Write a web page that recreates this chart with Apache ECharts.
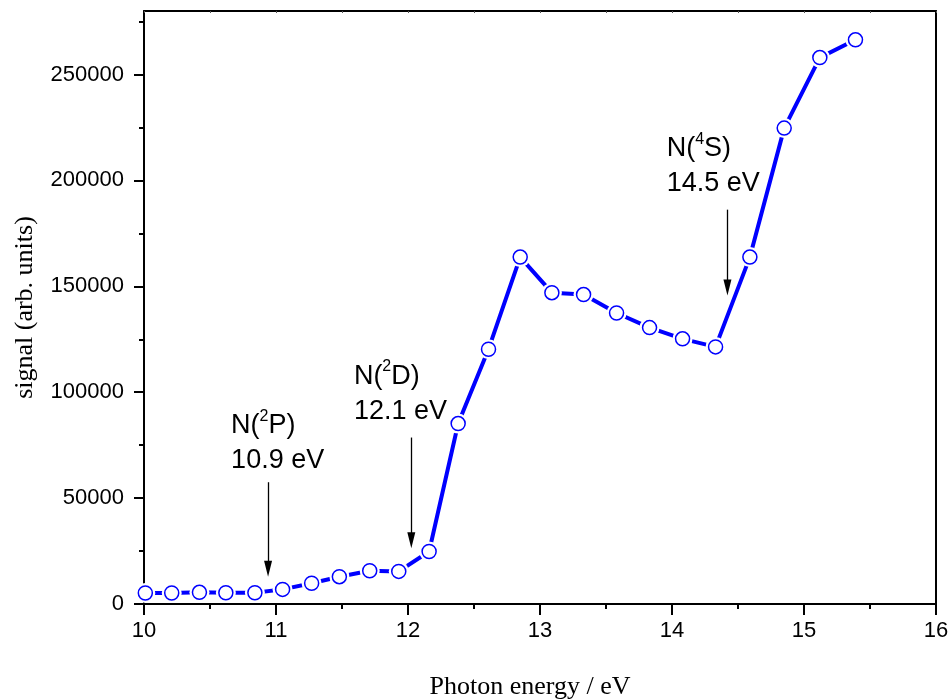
<!DOCTYPE html>
<html>
<head>
    <meta charset="utf-8">
    <title>signal vs photon energy</title>
    <script src="https://cdn.jsdelivr.net/npm/echarts@6/dist/echarts.min.js"></script>
    <style>
        html, body { margin: 0; padding: 0; background: #fff; }
        #chart { width: 951px; height: 700px; }
    </style>
</head>
<body>
<div id="chart"></div>
<script>
    // photon energy (eV) and signal (arb. units)
    var energy = [10.01, 10.21, 10.42, 10.62, 10.84, 11.05, 11.27, 11.48, 11.71, 11.93, 12.16, 12.38,
                  12.61, 12.85, 13.09, 13.33, 13.58, 13.83, 14.08, 14.33, 14.59, 14.85, 15.12, 15.39];
    var signal = [5200, 5200, 5500, 5300, 5300, 6900, 9800, 12900, 15700, 15400, 24800, 85200,
                  120300, 163800, 147000, 146100, 137400, 130500, 125200, 121400, 163800, 224700, 258000, 266400];

    var yTicks = [0, 50000, 100000, 150000, 200000, 250000];
    var yMinorTicks = [25000, 75000, 125000, 175000, 225000, 275000];

    // threshold annotations
    var noteX = [10.66, 11.59, 13.96];
    var noteY = [75900, 99300, 206600];
    var noteSup = ['2', '2', '4'];
    var noteTerm = ['P', 'D', 'S'];
    var noteEnergy = ['10.9 eV', '12.1 eV', '14.5 eV'];
    var arrowX = [10.94, 12.025, 14.42];
    var arrowTop = [57500, 78600, 186200];
    var arrowEnd = [16700, 30100, 149500];

    var sans = "'Liberation Sans', Arial, sans-serif";
    var serif = "'Liberation Serif', 'Times New Roman', serif";

    var points = energy.map(function (e, i) { return [e, signal[i]]; });
    var notes = noteX.map(function (x, i) { return [x, noteY[i]]; });
    var heads = arrowX.map(function (x, i) { return [x, arrowEnd[i]]; });
    var arrows = arrowX.map(function (x, i) {
        return [{coord: [x, arrowTop[i]]}, {coord: [x, arrowEnd[i]]}];
    });

    var chart = echarts.init(document.getElementById('chart'));
    var option = {
        backgroundColor: '#fff',
        animation: false,
        grid: {left: 144, right: 15, top: 11, bottom: 96, outerBoundsMode: 'none'},
        xAxis: [{
            type: 'value', min: 10, max: 16, interval: 1,
            name: 'Photon energy / eV', nameLocation: 'middle', nameGap: 70,
            nameTextStyle: {fontFamily: serif, fontSize: 26, color: '#000', padding: [0, 20, 0, 0]},
            axisLine: {onZero: false, lineStyle: {color: '#000', width: 2}},
            axisTick: {length: 11, lineStyle: {color: '#000', width: 2}},
            minorTick: {show: true, splitNumber: 2, length: 5, lineStyle: {color: '#000', width: 2}},
            axisLabel: {fontFamily: sans, fontSize: 22, color: '#000', margin: 16},
            splitLine: {show: false}
        }, {
            type: 'value', position: 'top', min: 10, max: 16, interval: 0.5,
            axisLine: {show: true, onZero: false, lineStyle: {color: '#000', width: 2}},
            axisTick: {inside: true, length: 2, lineStyle: {color: '#555', width: 1}},
            axisLabel: {show: false},
            splitLine: {show: false}
        }],
        yAxis: [{
            type: 'value', position: 'left', min: 0, max: 280000,
            name: 'signal (arb. units)', nameLocation: 'middle', nameGap: 106,
            nameTextStyle: {fontFamily: serif, fontSize: 26, color: '#000'},
            axisLine: {show: true, onZero: false, lineStyle: {color: '#000', width: 2}},
            axisTick: {show: true, length: 10, customValues: yTicks, lineStyle: {color: '#000', width: 2}},
            axisLabel: {fontFamily: sans, fontSize: 22, color: '#000', margin: 20, customValues: yTicks,
                formatter: function (v) { return String(v); }},
            splitLine: {show: false}
        }, {
            type: 'value', position: 'left', min: 0, max: 280000,
            axisLine: {show: false, onZero: false},
            axisTick: {show: true, length: 5, customValues: yMinorTicks, lineStyle: {color: '#000', width: 2}},
            axisLabel: {show: false},
            splitLine: {show: false}
        }, {
            type: 'value', position: 'right', min: 0, max: 280000,
            axisLine: {show: true, onZero: false, lineStyle: {color: '#000', width: 2}},
            axisTick: {show: false},
            axisLabel: {show: false},
            splitLine: {show: false}
        }],
        series: [{
            type: 'line',
            data: points,
            showSymbol: false,
            lineStyle: {color: '#0000ff', width: 4},
            z: 2
        }, {
            // white halo so the line stops short of each marker
            type: 'scatter',
            data: points,
            symbolSize: 20,
            itemStyle: {color: '#fff', opacity: 1},
            z: 3
        }, {
            type: 'scatter',
            data: points,
            symbolSize: 14,
            itemStyle: {color: '#fff', borderColor: '#0000ff', borderWidth: 1.5, opacity: 1},
            z: 4
        }, {
            // arrow heads
            type: 'scatter',
            data: heads,
            symbol: 'triangle',
            symbolRotate: 180,
            symbolSize: [8, 16],
            itemStyle: {color: '#000', opacity: 1},
            silent: true,
            z: 6
        }, {
            type: 'scatter',
            data: notes,
            symbolSize: 0,
            silent: true,
            z: 5,
            itemStyle: {opacity: 1},
            label: {
                show: true, position: 'right', distance: 0, align: 'left', color: '#000',
                formatter: function (p) {
                    var i = p.dataIndex;
                    return '{n|N(}{s|' + noteSup[i] + '}{n|' + noteTerm[i] + ')}\n{n|' + noteEnergy[i] + '}';
                },
                rich: {
                    n: {fontFamily: sans, fontSize: 27, lineHeight: 35, color: '#000'},
                    s: {fontFamily: sans, fontSize: 16, lineHeight: 35, verticalAlign: 'top', color: '#000'}
                }
            },
            markLine: {
                silent: true,
                symbol: ['none', 'none'],
                label: {show: false},
                lineStyle: {color: '#000', width: 1.3, type: 'solid', opacity: 1},
                data: arrows
            }
        }]
    };
    chart.setOption(option);
</script>
</body>
</html>
